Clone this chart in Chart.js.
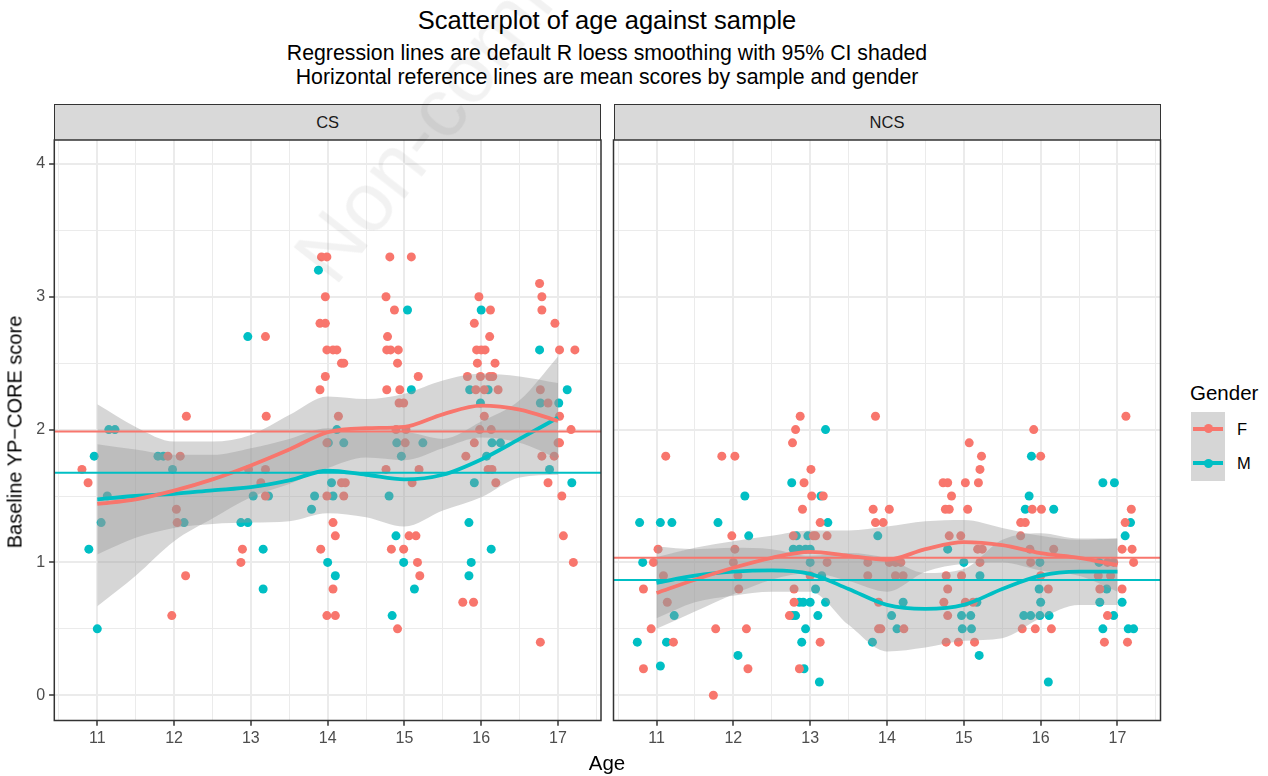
<!DOCTYPE html>
<html>
<head>
<meta charset="utf-8">
<script src="https://cdn.jsdelivr.net/npm/chart.js@4.4.1/dist/chart.umd.min.js"></script>
<style>
  body { margin: 0; width: 1268px; height: 776px; background: #fff; position: relative; overflow: hidden;
         font-family: "Liberation Sans", Arial, Helvetica, sans-serif; }
  .txt { position: absolute; white-space: nowrap; transform: translate(-50%, -50%); color: #000; }
  .strip { position: absolute; top: 104px; height: 36px; box-sizing: border-box; background: #D9D9D9;
           border: 1.5px solid #333; border-bottom: none; color: #1A1A1A; font-size: 16.5px;
           display: flex; align-items: center; justify-content: center; }
  canvas { position: absolute; top: 134px; }
  .key { position: absolute; left: 1191px; width: 34px; height: 34.5px; background: #D6D6D6; }
  .key .ln { position: absolute; left: 2px; right: 2px; top: 15.4px; height: 3.8px; }
  .key .dt { position: absolute; left: 12.5px; top: 12.8px; width: 9px; height: 9px; border-radius: 50%; }
  .mark { position: absolute; left: 345px; top: 212px; font-size: 84px; line-height: 1; color: rgba(0,0,0,0.05);
          transform-origin: 0 100%; transform: rotate(-52deg); white-space: nowrap; pointer-events: none; z-index: 5; }
</style>
</head>
<body>
<div class="txt" style="left:607px;top:19.5px;font-size:25.5px">Scatterplot of age against sample</div>
<div class="txt" style="left:607px;top:52.5px;font-size:21.3px">Regression lines are default R loess smoothing with 95% CI shaded</div>
<div class="txt" style="left:607px;top:76.5px;font-size:21.3px">Horizontal reference lines are mean scores by sample and gender</div>

<div class="strip" style="left:54.3px;width:546.7px">CS</div>
<div class="strip" style="left:613.5px;width:547px">NCS</div>

<canvas id="csChart" width="606" height="642" style="left:0px"></canvas>
<canvas id="ncsChart" width="558" height="642" style="left:608px"></canvas>

<div class="txt" style="left:15px;top:432px;font-size:20px;transform:translate(-50%,-50%) rotate(-90deg)">Baseline YP−CORE score</div>
<div class="txt" style="left:607px;top:763px;font-size:20.5px">Age</div>

<div class="txt" style="left:1190px;top:393px;font-size:20.5px;transform:translate(0,-50%)">Gender</div>
<div class="key" style="top:411.5px"><div class="ln" style="background:#F8766D"></div><div class="dt" style="background:#F8766D"></div></div>
<div class="key" style="top:446px"><div class="ln" style="background:#00BFC4"></div><div class="dt" style="background:#00BFC4"></div></div>
<div class="txt" style="left:1237px;top:428.5px;font-size:16.5px;transform:translate(0,-50%)">F</div>
<div class="txt" style="left:1237px;top:463px;font-size:16.5px;transform:translate(0,-50%)">M</div>

<div class="mark">Non-commercial use only</div>

<script>
// axis breaks
const xBreaks = [11, 12, 13, 14, 15, 16, 17];
const yBreaks = [0, 1, 2, 3, 4];
const xLimits = [10.44, 17.56];
const yLimits = [-0.19, 4.18];

// jittered points: [age, score]
const csFemale = [
  [10.8,1.7],[10.88,1.6],
  [11.92,1.8],[12.08,1.8],[12.16,2.1],[12.03,1.4],[12.04,1.3],[12.15,0.9],[11.97,0.6],
  [13.19,2.7],[13.2,2.1],[12.97,1.7],[13.19,1.7],[13.13,1.6],[13.19,1.5],[12.89,1.1],[12.87,1.0],
  [13.92,3.3],[13.99,3.3],[13.97,3.0],[13.9,2.8],[13.97,2.8],[13.99,2.6],[14.07,2.6],[14.12,2.6],[14.18,2.5],[14.21,2.5],
  [13.97,2.4],[13.9,2.3],[14.14,2.1],[13.99,1.9],[14.18,1.6],[14.23,1.6],[13.99,1.5],[14.21,1.5],[14.07,1.3],[14.1,1.2],
  [13.91,1.1],[14.07,0.8],[13.99,0.6],[14.1,0.6],
  [14.81,3.3],[15.09,3.3],[14.76,3.0],[14.87,2.9],[14.78,2.7],[14.77,2.6],[14.82,2.6],[14.92,2.6],[14.91,2.5],[15.18,2.4],
  [14.77,2.3],[14.94,2.3],[14.93,2.2],[14.99,2.2],[14.89,2.0],[15.02,2.0],[15.01,1.9],[14.76,1.7],[15.19,1.7],[15.1,1.6],
  [15.06,1.2],[15.15,1.2],[14.83,1.1],[14.99,1.1],[15.17,1.0],[15.2,0.9],[14.91,0.5],
  [15.97,3.0],[16.12,2.9],[15.91,2.8],[16.11,2.7],[15.94,2.6],[16.0,2.6],[16.05,2.6],[15.95,2.5],[16.18,2.5],[15.82,2.4],
  [15.99,2.4],[16.11,2.4],[16.15,2.4],[15.93,2.3],[16.04,2.3],[16.22,2.3],[16.04,2.1],[15.98,2.0],[16.13,2.0],[15.91,1.9],
  [15.8,1.8],[16.09,1.7],[16.14,1.7],[16.19,1.6],[15.76,0.7],[15.9,0.7],
  [16.76,3.1],[16.79,3.0],[16.79,2.9],[16.96,2.8],[17.02,2.6],[17.22,2.6],[16.77,2.3],[16.87,2.2],[17.02,2.1],[17.17,2.0],
  [17.0,1.9],[17.02,1.9],[16.79,1.8],[16.95,1.8],[16.87,1.6],[17.05,1.5],[17.07,1.2],[17.2,1.0],[16.77,0.4]
];
const csMale = [
  [11.15,2.0],[11.23,2.0],[10.96,1.8],[11.13,1.5],[11.05,1.3],[10.89,1.1],[11.0,0.5],
  [11.79,1.8],[11.86,1.8],[11.98,1.7],[12.13,1.3],
  [12.96,2.7],[13.03,1.5],[13.23,1.5],[12.87,1.3],[12.96,1.3],[13.16,1.1],[13.16,0.8],
  [13.88,3.2],[14.12,2.0],[14.01,1.9],[14.21,1.9],[14.05,1.6],[13.83,1.5],[14.07,1.5],[13.79,1.4],[14.0,1.0],[14.1,0.9],
  [15.04,2.9],[15.09,2.3],[14.9,1.9],[15.24,1.9],[14.96,1.8],[14.8,1.5],[14.89,1.2],[14.99,1.0],[15.13,0.8],[14.84,0.6],
  [16.0,2.9],[15.85,2.3],[16.09,2.3],[15.99,2.2],[16.14,1.9],[16.25,1.9],[16.07,1.8],[15.91,1.6],[15.84,1.3],[16.13,1.1],
  [15.87,1.0],[15.84,0.9],
  [16.76,2.6],[17.12,2.3],[16.77,2.2],[17.01,2.2],[16.89,1.7],[17.18,1.6]
];
const ncsFemale = [
  [11.12,1.8],[11.02,1.1],[10.96,1.0],[11.09,0.9],[10.83,0.8],[11.14,0.7],[10.93,0.5],[11.22,0.4],[10.83,0.2],
  [11.85,1.8],[12.02,1.8],[11.98,1.2],[12.02,1.1],[12.0,1.0],[12.06,0.9],[12.07,0.8],[11.77,0.5],[12.17,0.5],[12.19,0.2],[11.74,0.0],
  [12.87,2.1],[12.81,2.0],[12.77,1.9],[13.01,1.7],[12.92,1.6],[13.02,1.5],[13.17,1.5],[12.9,1.4],[13.13,1.3],[12.78,1.2],
  [13.04,1.2],[13.07,1.2],[13.22,1.2],[13.22,1.0],[13.0,0.9],[12.79,0.8],[12.79,0.7],[12.73,0.6],[13.13,0.4],[12.86,0.2],
  [13.85,2.1],[13.82,1.4],[14.03,1.4],[13.85,1.3],[13.95,1.3],[13.75,1.0],[14.03,1.0],[14.11,1.0],[14.18,1.0],[13.75,0.9],
  [14.11,0.9],[14.21,0.9],[13.89,0.7],[13.89,0.5],[13.92,0.5],[14.22,0.5],
  [15.07,1.9],[15.23,1.8],[15.21,1.7],[14.73,1.6],[14.79,1.6],[15.02,1.6],[15.19,1.6],[14.84,1.5],[14.76,1.4],[14.81,1.4],
  [15.05,1.4],[14.81,1.2],[14.96,1.2],[15.18,1.1],[15.24,1.1],[15.21,1.0],[14.77,0.9],[14.97,0.9],[14.79,0.8],[14.74,0.7],
  [15.02,0.7],[15.12,0.7],[14.79,0.6],[14.77,0.4],[14.93,0.4],[15.14,0.4],
  [15.91,2.0],[16.0,1.8],[15.89,1.4],[16.01,1.4],[15.74,1.3],[15.8,1.3],[15.74,1.2],[15.86,1.1],[16.17,1.1],[15.87,1.0],
  [16.0,0.9],[16.1,0.8],[15.76,0.5],[15.93,0.5],[16.14,0.5],
  [17.11,2.1],[17.18,1.4],[17.1,1.3],[17.06,1.1],[17.19,1.1],[16.87,1.0],[16.95,1.0],[17.21,1.0],[16.75,0.9],[16.91,0.9],
  [16.77,0.8],[17.06,0.8],[16.87,0.6],[16.83,0.4],[17.13,0.4]
];
const ncsMale = [
  [10.78,1.3],[11.05,1.3],[11.2,1.3],[10.82,1.0],[11.23,0.6],[10.75,0.4],[11.13,0.4],[11.05,0.22],
  [11.8,1.3],[12.15,1.5],[12.2,1.2],[12.06,0.3],
  [12.76,1.6],[13.2,2.0],[13.14,1.5],[13.23,1.3],[12.82,1.2],[12.97,1.2],[12.78,1.1],[12.86,1.1],[12.94,1.1],[13.0,1.1],
  [13.0,1.0],[13.15,0.9],[13.07,0.8],[12.86,0.7],[12.91,0.7],[13.0,0.7],[13.2,0.7],[12.77,0.6],[12.81,0.6],[13.1,0.6],
  [12.94,0.5],[12.89,0.4],[12.92,0.2],[13.12,0.1],
  [13.88,1.2],[14.21,0.7],[14.06,0.6],[14.13,0.5],[13.81,0.4],
  [14.79,1.1],[15.0,1.0],[15.21,0.9],[15.17,0.7],[14.97,0.6],[15.09,0.6],[14.98,0.5],[15.1,0.5],[15.2,0.3],
  [15.88,1.8],[15.85,1.5],[15.8,1.4],[16.17,1.4],[15.99,1.0],[15.98,0.8],[16.0,0.7],[15.78,0.6],[15.87,0.6],[15.99,0.6],
  [16.11,0.6],[16.1,0.1],
  [16.81,1.6],[16.96,1.6],[17.17,1.3],[17.1,1.2],[16.76,1.0],[16.86,0.8],[16.77,0.7],[17.06,0.7],[16.95,0.6],[16.81,0.5],
  [17.14,0.5],[17.21,0.5]
];

// loess fits
const smoothAge = [11, 11.5, 12, 12.5, 13, 13.5, 14, 14.5, 15, 15.5, 16, 16.5, 17];
const csFemaleFit  = [1.44, 1.475, 1.54, 1.625, 1.73, 1.85, 1.98, 2.01, 2.02, 2.115, 2.18, 2.15, 2.065];
const csFemaleLow  = [0.67, 0.90, 1.16, 1.33, 1.49, 1.59, 1.71, 1.79, 1.77, 1.86, 1.94, 1.90, 1.78];
const csFemaleHigh = [2.19, 2.02, 1.91, 1.91, 1.96, 2.11, 2.25, 2.23, 2.27, 2.37, 2.42, 2.40, 2.35];
const csMaleFit    = [1.475, 1.50, 1.517, 1.543, 1.567, 1.618, 1.69, 1.66, 1.625, 1.66, 1.775, 1.93, 2.09];
const csMaleLow    = [1.06, 1.185, 1.26, 1.29, 1.30, 1.31, 1.37, 1.34, 1.27, 1.39, 1.49, 1.64, 1.66];
const csMaleHigh   = [1.89, 1.85, 1.81, 1.81, 1.86, 1.93, 2.01, 1.98, 1.98, 1.93, 2.06, 2.22, 2.55];
const ncsFemaleFit  = [0.77, 0.87, 0.96, 1.035, 1.08, 1.05, 1.02, 1.10, 1.153, 1.13, 1.07, 1.035, 0.98];
const ncsFemaleLow  = [0.50, 0.63, 0.76, 0.87, 0.92, 0.86, 0.78, 0.93, 0.99, 1.00, 0.94, 0.90, 0.78];
const ncsFemaleHigh = [1.04, 1.11, 1.16, 1.20, 1.24, 1.24, 1.27, 1.31, 1.32, 1.26, 1.20, 1.17, 1.18];
const ncsMaleFit    = [0.846, 0.90, 0.93, 0.94, 0.914, 0.80, 0.68, 0.65, 0.68, 0.80, 0.90, 0.93, 0.93];
const ncsMaleLow    = [0.58, 0.70, 0.75, 0.78, 0.78, 0.53, 0.33, 0.36, 0.41, 0.43, 0.58, 0.68, 0.68];
const ncsMaleHigh   = [1.12, 1.10, 1.11, 1.10, 1.05, 1.07, 1.03, 0.92, 0.95, 1.17, 1.22, 1.18, 1.18];

// mean score by sample and gender
const csMeans  = { F: 1.985, M: 1.675 };
const ncsMeans = { F: 1.035, M: 0.867 };

const RED = '#F8766D';
const TEAL = '#00BFC4';
const RIBBON = 'rgba(153,153,153,0.4)';

Chart.defaults.font.family = "'Liberation Sans', Arial, Helvetica, sans-serif";
Chart.defaults.color = '#4D4D4D';

const isMajor = v => Math.abs(v - Math.round(v)) < 1e-6;
const toPoints = arr => arr.map(p => ({ x: p[0], y: p[1] }));
const toCurve = ys => smoothAge.map((a, i) => ({ x: a, y: ys[i] }));

function withMinors(breaks, lo, hi) {
    const out = [];
    breaks.forEach(b => { out.push(b); out.push(b - 0.5); out.push(b + 0.5); });
    return [...new Set(out)].filter(v => v >= lo && v <= hi).sort((a, b) => a - b);
}

// panel border drawn over everything, like theme_bw
const panelFrame = {
    id: 'panelFrame',
    afterDraw(chart) {
        const { ctx, chartArea: a } = chart;
        ctx.save();
        ctx.strokeStyle = '#333333';
        ctx.lineWidth = 1.5;
        ctx.strokeRect(a.left, a.top, a.right - a.left, a.bottom - a.top);
        ctx.restore();
    }
};

function curveSet(ys, extra) {
    return Object.assign({
        type: 'line',
        data: toCurve(ys),
        pointRadius: 0,
        pointHoverRadius: 0,
        cubicInterpolationMode: 'monotone',
        borderColor: 'rgba(0,0,0,0)',
        borderWidth: 0,
        fill: false,
        order: 5
    }, extra);
}

function meanLine(value, color) {
    return {
        type: 'line',
        data: [{ x: xLimits[0], y: value }, { x: xLimits[1], y: value }],
        borderColor: color,
        borderWidth: 2,
        pointRadius: 0,
        pointHoverRadius: 0,
        fill: false,
        order: 1
    };
}

function makePanel(canvasId, females, males, fit, means, showY) {
    const ctx = document.getElementById(canvasId);
    const xTicks = withMinors(xBreaks, xLimits[0], xLimits[1]);
    const yTicks = withMinors(yBreaks, yLimits[0], yLimits[1]);

    new Chart(ctx, {
        type: 'scatter',
        data: {
            datasets: [
                { data: toPoints(females), backgroundColor: RED, pointRadius: 4.5, pointBorderWidth: 0, pointHoverRadius: 4.5, order: 10 },
                { data: toPoints(males), backgroundColor: TEAL, pointRadius: 4.5, pointBorderWidth: 0, pointHoverRadius: 4.5, order: 10 },
                curveSet(fit.fLow),
                curveSet(fit.fHigh, { fill: '-1', backgroundColor: RIBBON }),
                curveSet(fit.mLow),
                curveSet(fit.mHigh, { fill: '-1', backgroundColor: RIBBON }),
                curveSet(fit.fFit, { borderColor: RED, borderWidth: 3.8, order: 2 }),
                curveSet(fit.mFit, { borderColor: TEAL, borderWidth: 3.8, order: 2 }),
                meanLine(means.F, RED),
                meanLine(means.M, TEAL)
            ]
        },
        options: {
            responsive: false,
            animation: false,
            events: [],
            layout: { padding: showY ? { left: 0, right: 5, top: 6, bottom: 0 } : { left: 5.5, right: 5.5, top: 6, bottom: 0 } },
            plugins: { legend: { display: false }, tooltip: { enabled: false } },
            scales: {
                x: {
                    type: 'linear',
                    min: xLimits[0],
                    max: xLimits[1],
                    afterBuildTicks: s => { s.ticks = xTicks.map(v => ({ value: v })); },
                    afterFit: s => { s.height = 55.5; s.paddingLeft = 0; s.paddingRight = 0; },
                    border: { display: false },
                    grid: {
                        color: '#EBEBEB',
                        lineWidth: c => (c.tick && isMajor(c.tick.value)) ? 2 : 1,
                        tickLength: 5.2,
                        tickWidth: 1.5,
                        tickColor: c => (c.tick && isMajor(c.tick.value)) ? '#333333' : 'rgba(0,0,0,0)'
                    },
                    ticks: {
                        autoSkip: false,
                        maxRotation: 0,
                        padding: 3,
                        color: '#4D4D4D',
                        font: { size: 16 },
                        callback: v => isMajor(v) ? String(Math.round(v)) : ''
                    }
                },
                y: {
                    type: 'linear',
                    min: yLimits[0],
                    max: yLimits[1],
                    afterBuildTicks: s => { s.ticks = yTicks.map(v => ({ value: v })); },
                    afterFit: s => { s.width = showY ? 54.3 : 0; s.paddingTop = 0; s.paddingBottom = 0; },
                    border: { display: false },
                    grid: {
                        color: '#EBEBEB',
                        lineWidth: c => (c.tick && isMajor(c.tick.value)) ? 2 : 1,
                        drawTicks: showY,
                        tickLength: 5.2,
                        tickWidth: 1.5,
                        tickColor: c => (c.tick && isMajor(c.tick.value)) ? '#333333' : 'rgba(0,0,0,0)'
                    },
                    ticks: {
                        display: showY,
                        autoSkip: false,
                        padding: 4,
                        color: '#4D4D4D',
                        font: { size: 16 },
                        callback: v => isMajor(v) ? String(Math.round(v)) : ''
                    }
                }
            }
        },
        plugins: [panelFrame]
    });
}

makePanel('csChart', csFemale, csMale, {
    fFit: csFemaleFit, fLow: csFemaleLow, fHigh: csFemaleHigh,
    mFit: csMaleFit, mLow: csMaleLow, mHigh: csMaleHigh
}, csMeans, true);

makePanel('ncsChart', ncsFemale, ncsMale, {
    fFit: ncsFemaleFit, fLow: ncsFemaleLow, fHigh: ncsFemaleHigh,
    mFit: ncsMaleFit, mLow: ncsMaleLow, mHigh: ncsMaleHigh
}, ncsMeans, false);
</script>
</body>
</html>
